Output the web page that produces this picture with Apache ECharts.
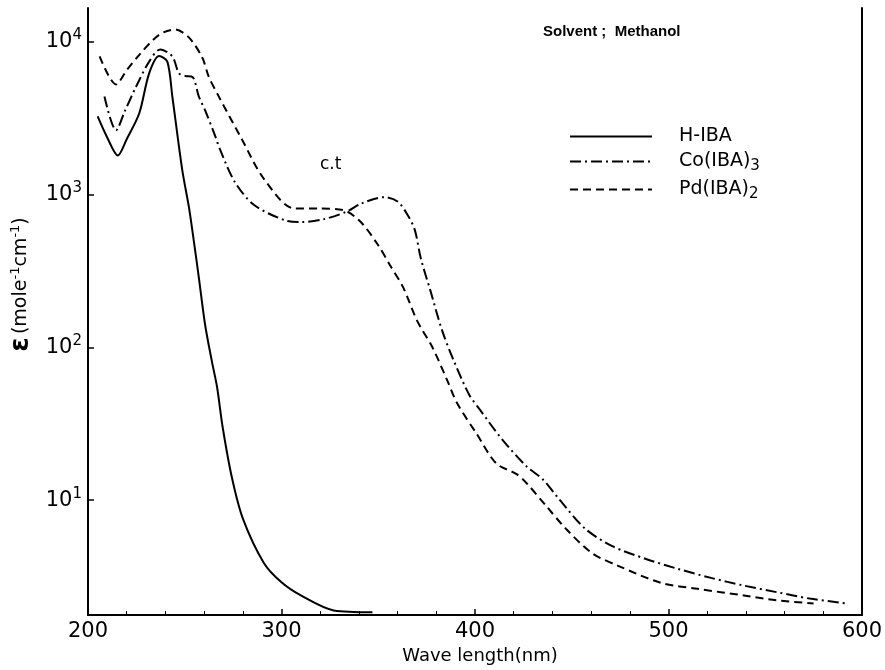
<!DOCTYPE html>
<html>
<head>
<meta charset="utf-8">
<script src="https://cdn.jsdelivr.net/npm/echarts@6/dist/echarts.min.js"></script>
<style>html,body{margin:0;background:#fff}#main{width:885px;height:670px}</style>
</head>
<body>
<div id="main"></div>
<script>
// wavelength (nm) / epsilon pairs
var hIbaX = [205, 210, 215.4, 220, 226.5, 231.6, 236.8, 241, 243.6, 248.7, 252.2, 254.7, 257.3, 260.5, 264.1, 266.7, 269.6, 274.4, 280, 290.8, 300, 310, 327, 347];
var hIbaY = [3240, 2350, 1800, 2300, 3400, 6200, 8040, 7400, 4360, 1450, 820, 495, 285, 141, 80, 55, 30, 14, 7.6, 3.9, 2.9, 2.38, 1.9, 1.85];

var coX = [208.5, 214.5, 219, 224.6, 231.6, 237.4, 243.6, 247, 250.3, 254, 257.3, 260.5, 265.8, 268, 276, 286, 301.5, 310, 322, 334, 341, 353, 360, 365.6, 369, 372, 377, 383, 389, 397, 402.6, 414, 426.7, 435, 443.6, 457, 471, 488, 505, 522, 539, 556, 573, 592];
var coY = [4370, 2630, 3500, 5000, 7400, 8900, 8000, 6200, 5960, 5880, 4370, 3560, 2400, 2000, 1200, 850, 680, 660, 690, 775, 870, 960, 900, 720, 580, 382, 234, 129, 82, 49, 39, 25, 16.6, 13.7, 10.1, 6.5, 5.0, 4.14, 3.55, 3.1, 2.76, 2.5, 2.27, 2.11];

var pdX = [206, 214.5, 220, 226.5, 236.8, 245, 252, 259, 262.4, 267.5, 279.5, 291, 306.7, 319, 332, 341, 350, 356, 363, 370, 378, 385.6, 390.8, 401, 411, 421.5, 426.7, 437, 447, 460.5, 474, 496, 515, 539, 556, 575];
var pdY = [8000, 5250, 6500, 8200, 11100, 12000, 10700, 7900, 5900, 4400, 2300, 1260, 810, 810, 790, 660, 465, 346, 245, 150, 100, 61, 43, 27, 17.4, 14.8, 12.9, 9.1, 6.5, 4.5, 3.72, 2.88, 2.63, 2.38, 2.21, 2.11];

var seriesNames = ['H-IBA', 'Co(IBA)3', 'Pd(IBA)2'];
var xTicks = [200, 300, 400, 500, 600];

function pairs(xs, ys) {
  return xs.map(function (x, i) { return [x, ys[i]]; });
}

var chart = echarts.init(document.getElementById('main'));
var font = 'DejaVu Sans';

var option = {
  backgroundColor: '#fff',
  animation: false,
  color: ['#000', '#000', '#000'],
  grid: { left: 85, right: 20, top: 8, bottom: 50 },
  legend: {
    orient: 'vertical',
    left: 564,
    top: 122,
    itemWidth: 82,
    itemHeight: 12,
    itemGap: 6,
    data: seriesNames,
    itemStyle: { opacity: 0 },
    formatter: function (name) {
      if (name === 'Co(IBA)3') return '{n|Co(IBA)}{b|3}';
      if (name === 'Pd(IBA)2') return '{n|Pd(IBA)}{b|2}';
      return '{n|' + name + '}';
    },
    textStyle: {
      padding: [0, 0, 0, 22],
      rich: {
        n: { fontFamily: font, fontSize: 19, color: '#000' },
        b: { fontFamily: font, fontSize: 15, color: '#000', padding: [10, 0, 0, 0] }
      }
    }
  },
  graphic: [
    { type: 'text', left: 543, top: 24, style: { text: 'Solvent ;  Methanol', font: 'bold 15px Liberation Sans', fill: '#000' } },
    { type: 'text', left: 320, top: 156, style: { text: 'c.t', font: '17px DejaVu Sans', fill: '#000' } }
  ],
  xAxis: {
    type: 'value',
    min: 200,
    max: 600,
    interval: 100,
    name: 'Wave length(nm)',
    nameLocation: 'middle',
    nameGap: 28,
    nameTextStyle: { fontFamily: font, fontSize: 18, color: '#000', padding: [0, 0, 0, 10] },
    axisLine: { lineStyle: { color: '#000', width: 2 } },
    axisTick: { inside: true, length: 6, lineStyle: { color: '#000', width: 1.5 } },
    minorTick: { show: true, splitNumber: 5, length: 4, lineStyle: { color: '#000' } },
    axisLabel: {
      fontFamily: font, fontSize: 21, color: '#000', margin: 6,
      formatter: function (v) { return xTicks.indexOf(v) >= 0 ? String(v) : ''; }
    },
    splitLine: { show: false }
  },
  yAxis: [{
    type: 'log',
    logBase: 10,
    min: 1.77,
    max: 16600,
    name: '{e|ε} {t|(mole}{s|-1}{t|cm}{s|-1}{t|)}',
    nameLocation: 'middle',
    nameGap: 54,
    nameRotate: 90,
    nameTextStyle: {
      padding: [0, 0, 0, 54],
      rich: {
        e: { fontFamily: font, fontSize: 26, fontWeight: 'bold', color: '#000' },
        t: { fontFamily: font, fontSize: 19, color: '#000' },
        s: { fontFamily: font, fontSize: 13, color: '#000', padding: [0, 0, 10, 0] }
      }
    },
    axisLine: { show: true, lineStyle: { color: '#000', width: 2 } },
    axisTick: { inside: true, length: 6, lineStyle: { color: '#000', width: 1.5 } },
    axisLabel: {
      showMinLabel: false,
      showMaxLabel: false,
      margin: 6,
      formatter: function (v) {
        var p = Math.round(Math.log10(v));
        if (Math.abs(Math.log10(v) - p) > 1e-6) return '';
        return '{m|10}{p|' + p + '}';
      },
      rich: {
        m: { fontFamily: font, fontSize: 21, color: '#000' },
        p: { fontFamily: font, fontSize: 15, color: '#000', padding: [0, 0, 13, 0] }
      }
    },
    splitLine: { show: false }
  }, {
    type: 'log',
    logBase: 10,
    min: 1.77,
    max: 16600,
    position: 'right',
    axisLine: { show: true, lineStyle: { color: '#000', width: 2 } },
    axisTick: { show: false },
    axisLabel: { show: false },
    splitLine: { show: false }
  }],
  series: [{
    name: seriesNames[0],
    type: 'line',
    symbol: 'none',
    smooth: 0.3,
    data: pairs(hIbaX, hIbaY),
    lineStyle: { color: '#000', width: 2, type: 'solid' }
  }, {
    name: seriesNames[1],
    type: 'line',
    symbol: 'none',
    smooth: 0.3,
    data: pairs(coX, coY),
    lineStyle: { color: '#000', width: 2, type: [11, 4, 2, 4] }
  }, {
    name: seriesNames[2],
    type: 'line',
    symbol: 'none',
    smooth: 0.3,
    data: pairs(pdX, pdY),
    lineStyle: { color: '#000', width: 2, type: [8, 5] }
  }]
};

chart.setOption(option);
</script>
</body>
</html>
